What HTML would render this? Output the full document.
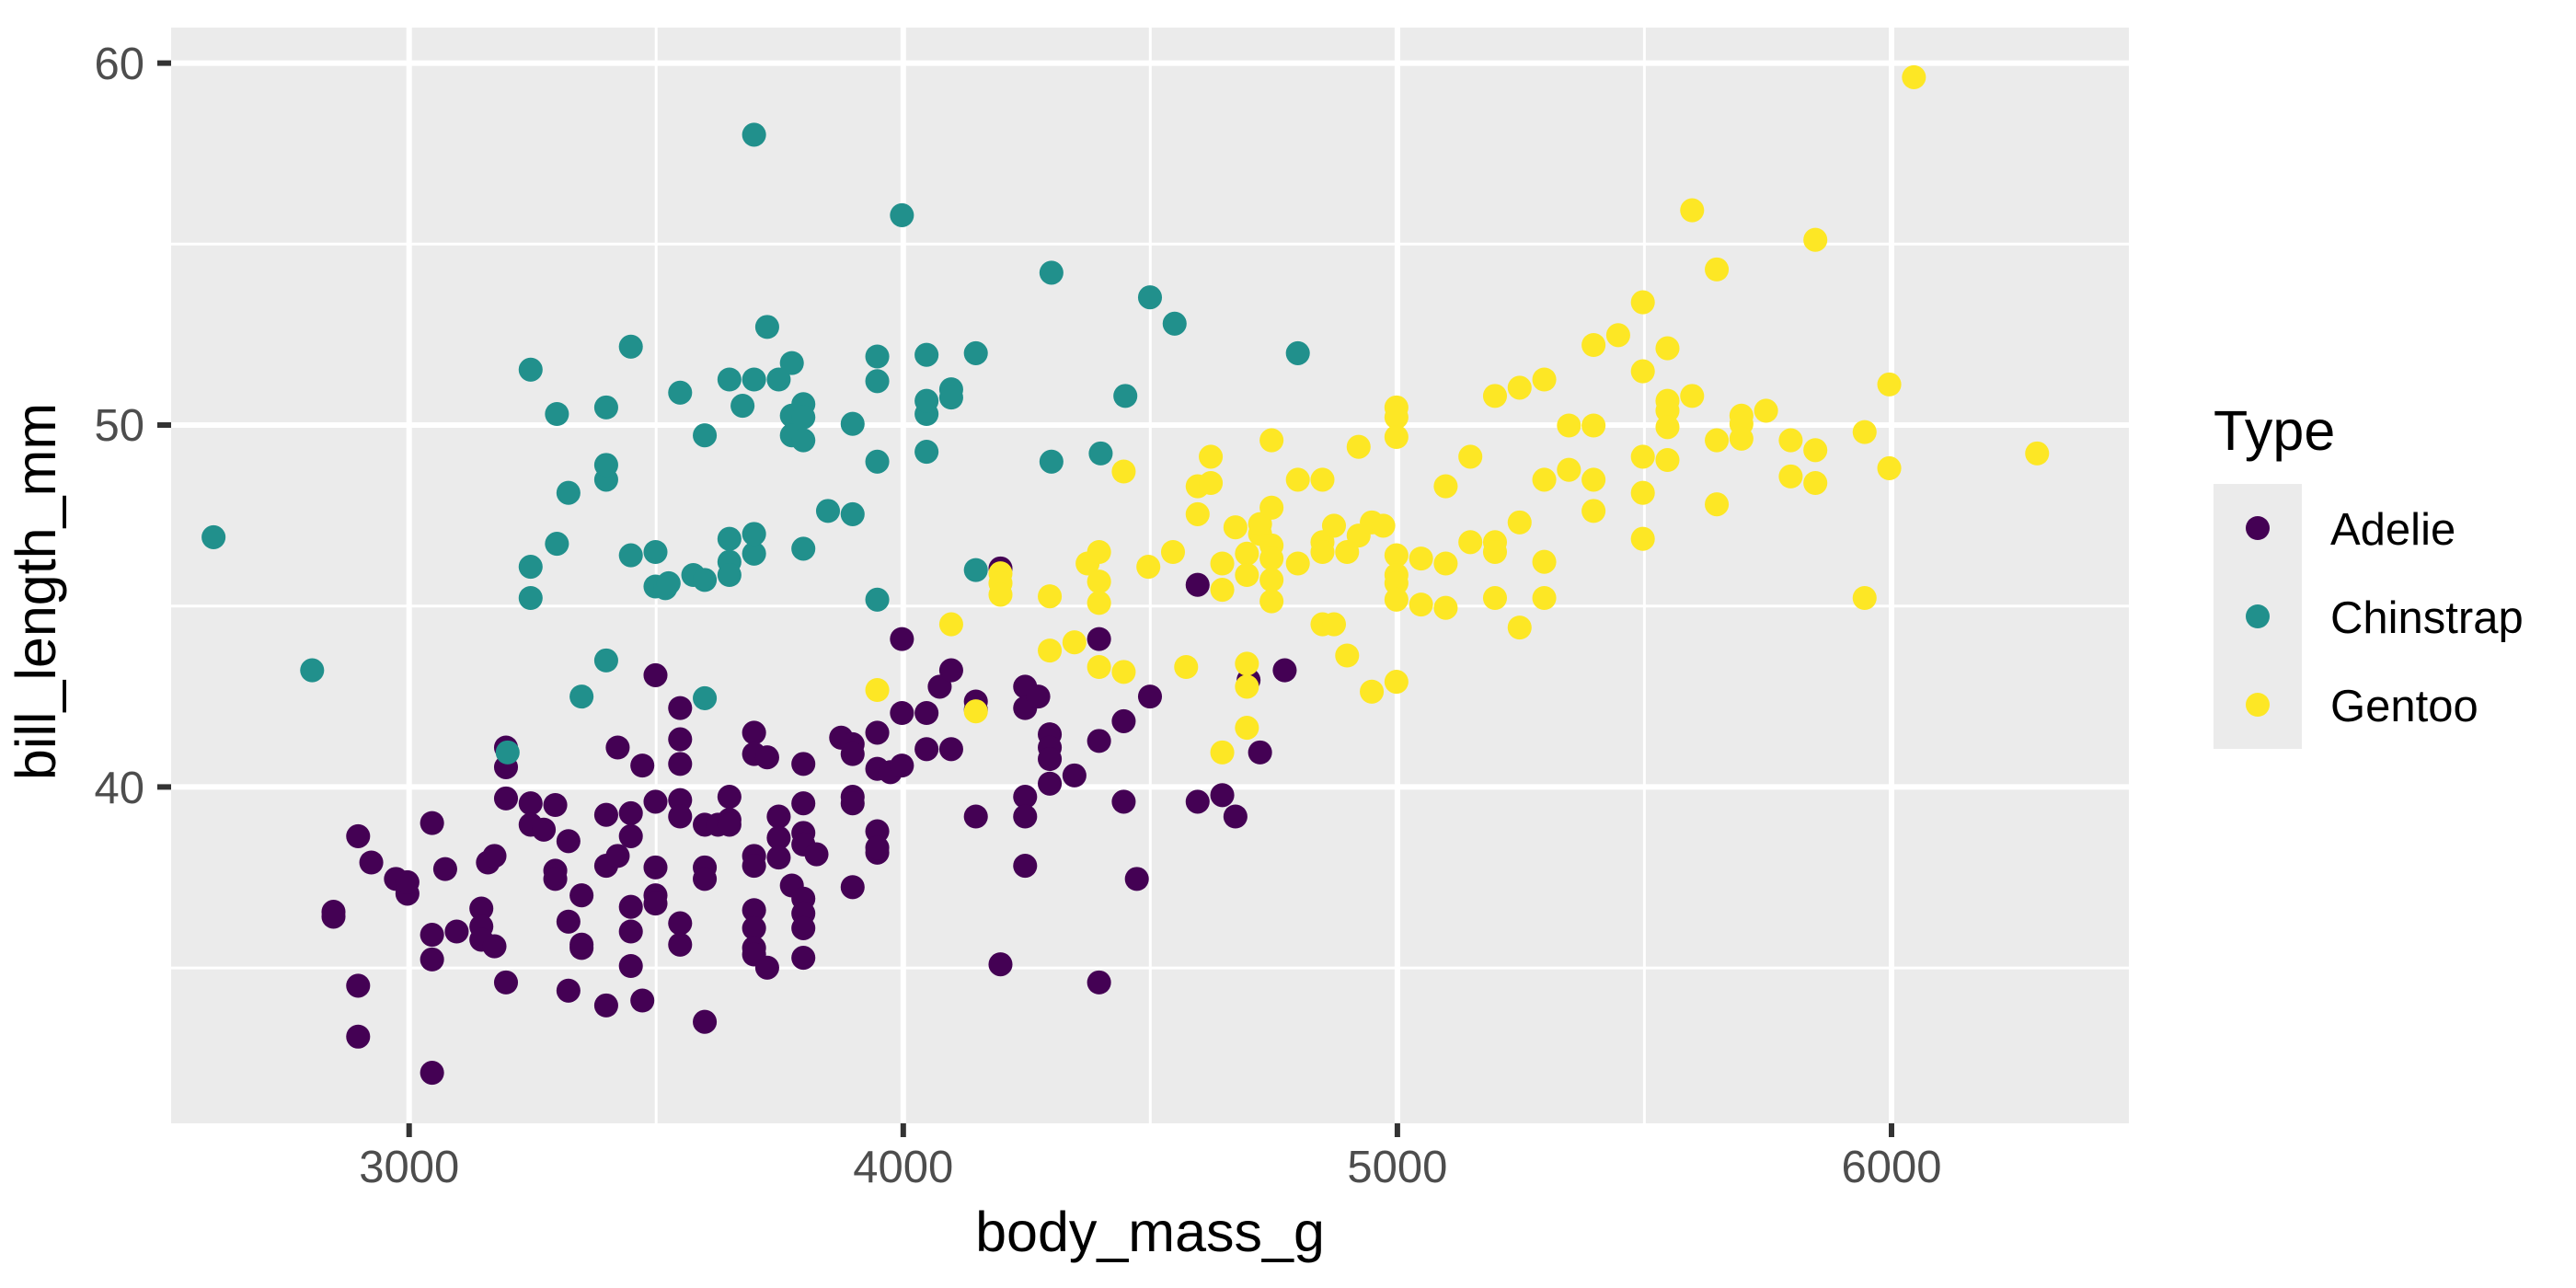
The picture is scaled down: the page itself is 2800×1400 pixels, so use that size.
<!DOCTYPE html>
<html><head><meta charset="utf-8"><style>html,body{margin:0;padding:0;background:#fff}svg{display:block}</style></head>
<body>
<svg width="2800" height="1400" viewBox="0 0 2800 1400" xmlns="http://www.w3.org/2000/svg" font-family="Liberation Sans, sans-serif">
<rect x="186" y="30" width="2128" height="1191" fill="#EBEBEB"/>
<g stroke="#fff" stroke-width="3">
<line x1="186" x2="2314" y1="265.3" y2="265.3"/><line x1="186" x2="2314" y1="658.7" y2="658.7"/><line x1="186" x2="2314" y1="1052.1" y2="1052.1"/>
<line y1="30" y2="1221" x1="713.2" x2="713.2"/><line y1="30" y2="1221" x1="1250.3" x2="1250.3"/><line y1="30" y2="1221" x1="1787.4" x2="1787.4"/>
</g>
<g stroke="#fff" stroke-width="6">
<line x1="186" x2="2314" y1="68.6" y2="68.6"/><line x1="186" x2="2314" y1="462" y2="462"/><line x1="186" x2="2314" y1="855.4" y2="855.4"/>
<line y1="30" y2="1221" x1="444.7" x2="444.7"/><line y1="30" y2="1221" x1="981.8" x2="981.8"/><line y1="30" y2="1221" x1="1518.9" x2="1518.9"/><line y1="30" y2="1221" x1="2056" x2="2056"/>
</g>
<g stroke="#333" stroke-width="6">
<line x1="171" x2="186" y1="68.6" y2="68.6"/><line x1="171" x2="186" y1="462" y2="462"/><line x1="171" x2="186" y1="855.4" y2="855.4"/>
<line y1="1221" y2="1236" x1="444.7" x2="444.7"/><line y1="1221" y2="1236" x1="981.8" x2="981.8"/><line y1="1221" y2="1236" x1="1518.9" x2="1518.9"/><line y1="1221" y2="1236" x1="2056" x2="2056"/>
</g>
<g fill="#4D4D4D" font-size="49">
<text x="157" y="86" text-anchor="end">60</text><text x="157" y="479" text-anchor="end">50</text><text x="157" y="873" text-anchor="end">40</text>
<text x="444.7" y="1285" text-anchor="middle">3000</text><text x="981.8" y="1285" text-anchor="middle">4000</text><text x="1518.9" y="1285" text-anchor="middle">5000</text><text x="2056" y="1285" text-anchor="middle">6000</text>
</g>
<text x="1250" y="1360" font-size="61" text-anchor="middle">body_mass_g</text>
<text transform="translate(60,643) rotate(-90)" font-size="61" text-anchor="middle">bill_length_mm</text>
<text x="2406" y="489" font-size="61">Type</text>
<rect x="2406" y="526" width="96" height="288" fill="#EBEBEB"/>
<circle cx="2454" cy="574" r="13" fill="#440154"/><circle cx="2454" cy="670" r="13" fill="#21908C"/><circle cx="2454" cy="766" r="13" fill="#FDE725"/>
<g font-size="49"><text x="2533" y="592">Adelie</text><text x="2533" y="688">Chinstrap</text><text x="2533" y="784">Gentoo</text></g>
<g transform="scale(1.7857)">
<g fill="#440154">
<circle cx="203" cy="555" r="7.3"/><circle cx="203" cy="558" r="7.3"/><circle cx="218" cy="509" r="7.3"/><circle cx="218" cy="600" r="7.3"/><circle cx="218" cy="631" r="7.3"/><circle cx="226" cy="525" r="7.3"/><circle cx="241" cy="535" r="7.3"/><circle cx="248" cy="544" r="7.3"/><circle cx="248" cy="537" r="7.3"/><circle cx="263" cy="501" r="7.3"/><circle cx="263" cy="569" r="7.3"/><circle cx="263" cy="584" r="7.3"/><circle cx="263" cy="653" r="7.3"/><circle cx="271" cy="529" r="7.3"/><circle cx="278" cy="567" r="7.3"/><circle cx="293" cy="553" r="7.3"/><circle cx="293" cy="564" r="7.3"/><circle cx="293" cy="572" r="7.3"/><circle cx="297" cy="525" r="7.3"/><circle cx="301" cy="521" r="7.3"/><circle cx="301" cy="576" r="7.3"/><circle cx="308" cy="455" r="7.3"/><circle cx="308" cy="467" r="7.3"/><circle cx="308" cy="486" r="7.3"/><circle cx="308" cy="598" r="7.3"/><circle cx="323" cy="489" r="7.3"/><circle cx="323" cy="502" r="7.3"/><circle cx="331" cy="505" r="7.3"/><circle cx="338" cy="490" r="7.3"/><circle cx="338" cy="530" r="7.3"/><circle cx="338" cy="535" r="7.3"/><circle cx="346" cy="512" r="7.3"/><circle cx="346" cy="561" r="7.3"/><circle cx="346" cy="603" r="7.3"/><circle cx="354" cy="545" r="7.3"/><circle cx="354" cy="577" r="7.3"/><circle cx="354" cy="575" r="7.3"/><circle cx="369" cy="496" r="7.3"/><circle cx="369" cy="527" r="7.3"/><circle cx="369" cy="612" r="7.3"/><circle cx="376" cy="455" r="7.3"/><circle cx="376" cy="521" r="7.3"/><circle cx="384" cy="495" r="7.3"/><circle cx="384" cy="509" r="7.3"/><circle cx="384" cy="552" r="7.3"/><circle cx="384" cy="567" r="7.3"/><circle cx="384" cy="588" r="7.3"/><circle cx="391" cy="466" r="7.3"/><circle cx="391" cy="609" r="7.3"/><circle cx="399" cy="411" r="7.3"/><circle cx="399" cy="488" r="7.3"/><circle cx="399" cy="528" r="7.3"/><circle cx="399" cy="545" r="7.3"/><circle cx="399" cy="550" r="7.3"/><circle cx="414" cy="431" r="7.3"/><circle cx="414" cy="450" r="7.3"/><circle cx="414" cy="465" r="7.3"/><circle cx="414" cy="487" r="7.3"/><circle cx="414" cy="497" r="7.3"/><circle cx="414" cy="562" r="7.3"/><circle cx="414" cy="575" r="7.3"/><circle cx="429" cy="502" r="7.3"/><circle cx="429" cy="528" r="7.3"/><circle cx="429" cy="535" r="7.3"/><circle cx="429" cy="622" r="7.3"/><circle cx="437" cy="502" r="7.3"/><circle cx="444" cy="485" r="7.3"/><circle cx="444" cy="499" r="7.3"/><circle cx="444" cy="502" r="7.3"/><circle cx="459" cy="446" r="7.3"/><circle cx="459" cy="459" r="7.3"/><circle cx="459" cy="521" r="7.3"/><circle cx="459" cy="527" r="7.3"/><circle cx="459" cy="554" r="7.3"/><circle cx="459" cy="565" r="7.3"/><circle cx="459" cy="577" r="7.3"/><circle cx="459" cy="581" r="7.3"/><circle cx="467" cy="461" r="7.3"/><circle cx="467" cy="589" r="7.3"/><circle cx="474" cy="497" r="7.3"/><circle cx="474" cy="510" r="7.3"/><circle cx="474" cy="522" r="7.3"/><circle cx="482" cy="539" r="7.3"/><circle cx="489" cy="465" r="7.3"/><circle cx="489" cy="489" r="7.3"/><circle cx="489" cy="507" r="7.3"/><circle cx="489" cy="514" r="7.3"/><circle cx="489" cy="547" r="7.3"/><circle cx="489" cy="556" r="7.3"/><circle cx="489" cy="565" r="7.3"/><circle cx="489" cy="583" r="7.3"/><circle cx="497" cy="520" r="7.3"/><circle cx="512" cy="449" r="7.3"/><circle cx="519" cy="453" r="7.3"/><circle cx="519" cy="459" r="7.3"/><circle cx="519" cy="485" r="7.3"/><circle cx="519" cy="489" r="7.3"/><circle cx="519" cy="540" r="7.3"/><circle cx="534" cy="446" r="7.3"/><circle cx="534" cy="468" r="7.3"/><circle cx="534" cy="506" r="7.3"/><circle cx="534" cy="519" r="7.3"/><circle cx="534" cy="516" r="7.3"/><circle cx="542" cy="470" r="7.3"/><circle cx="549" cy="389" r="7.3"/><circle cx="549" cy="434" r="7.3"/><circle cx="549" cy="466" r="7.3"/><circle cx="564" cy="434" r="7.3"/><circle cx="564" cy="456" r="7.3"/><circle cx="572" cy="418" r="7.3"/><circle cx="579" cy="408" r="7.3"/><circle cx="579" cy="456" r="7.3"/><circle cx="594" cy="427" r="7.3"/><circle cx="594" cy="497" r="7.3"/><circle cx="609" cy="346" r="7.3"/><circle cx="609" cy="587" r="7.3"/><circle cx="624" cy="418" r="7.3"/><circle cx="624" cy="431" r="7.3"/><circle cx="624" cy="485" r="7.3"/><circle cx="624" cy="497" r="7.3"/><circle cx="624" cy="527" r="7.3"/><circle cx="632" cy="424" r="7.3"/><circle cx="639" cy="447" r="7.3"/><circle cx="639" cy="455" r="7.3"/><circle cx="639" cy="462" r="7.3"/><circle cx="639" cy="477" r="7.3"/><circle cx="654" cy="472" r="7.3"/><circle cx="669" cy="389" r="7.3"/><circle cx="669" cy="451" r="7.3"/><circle cx="669" cy="598" r="7.3"/><circle cx="684" cy="439" r="7.3"/><circle cx="684" cy="488" r="7.3"/><circle cx="692" cy="535" r="7.3"/><circle cx="700" cy="424" r="7.3"/><circle cx="729" cy="356" r="7.3"/><circle cx="729" cy="488" r="7.3"/><circle cx="744" cy="484" r="7.3"/><circle cx="752" cy="497" r="7.3"/><circle cx="760" cy="414" r="7.3"/><circle cx="767" cy="458" r="7.3"/><circle cx="782" cy="408" r="7.3"/><circle cx="594" cy="432" r="7.3"/>
</g>
<g fill="#21908C">
<circle cx="130" cy="327" r="7.3"/><circle cx="190" cy="408" r="7.3"/><circle cx="323" cy="225" r="7.3"/><circle cx="323" cy="345" r="7.3"/><circle cx="323" cy="364" r="7.3"/><circle cx="339" cy="252" r="7.3"/><circle cx="339" cy="331" r="7.3"/><circle cx="346" cy="300" r="7.3"/><circle cx="354" cy="424" r="7.3"/><circle cx="369" cy="402" r="7.3"/><circle cx="369" cy="292" r="7.3"/><circle cx="369" cy="283" r="7.3"/><circle cx="369" cy="248" r="7.3"/><circle cx="384" cy="211" r="7.3"/><circle cx="384" cy="338" r="7.3"/><circle cx="399" cy="336" r="7.3"/><circle cx="399" cy="357" r="7.3"/><circle cx="405" cy="358" r="7.3"/><circle cx="407" cy="355" r="7.3"/><circle cx="414" cy="239" r="7.3"/><circle cx="422" cy="350" r="7.3"/><circle cx="429" cy="353" r="7.3"/><circle cx="429" cy="265" r="7.3"/><circle cx="429" cy="425" r="7.3"/><circle cx="444" cy="231" r="7.3"/><circle cx="444" cy="328" r="7.3"/><circle cx="444" cy="342" r="7.3"/><circle cx="444" cy="350" r="7.3"/><circle cx="452" cy="247" r="7.3"/><circle cx="459" cy="231" r="7.3"/><circle cx="459" cy="337" r="7.3"/><circle cx="459" cy="325" r="7.3"/><circle cx="459" cy="82" r="7.3"/><circle cx="467" cy="199" r="7.3"/><circle cx="474" cy="231" r="7.3"/><circle cx="482" cy="221" r="7.3"/><circle cx="482" cy="253" r="7.3"/><circle cx="482" cy="265" r="7.3"/><circle cx="489" cy="246" r="7.3"/><circle cx="489" cy="254" r="7.3"/><circle cx="489" cy="268" r="7.3"/><circle cx="489" cy="334" r="7.3"/><circle cx="504" cy="311" r="7.3"/><circle cx="519" cy="258" r="7.3"/><circle cx="519" cy="313" r="7.3"/><circle cx="534" cy="232" r="7.3"/><circle cx="534" cy="217" r="7.3"/><circle cx="534" cy="281" r="7.3"/><circle cx="534" cy="365" r="7.3"/><circle cx="549" cy="131" r="7.3"/><circle cx="564" cy="216" r="7.3"/><circle cx="564" cy="252" r="7.3"/><circle cx="564" cy="244" r="7.3"/><circle cx="564" cy="275" r="7.3"/><circle cx="579" cy="237" r="7.3"/><circle cx="579" cy="242" r="7.3"/><circle cx="594" cy="215" r="7.3"/><circle cx="594" cy="347" r="7.3"/><circle cx="640" cy="166" r="7.3"/><circle cx="640" cy="281" r="7.3"/><circle cx="670" cy="276" r="7.3"/><circle cx="685" cy="241" r="7.3"/><circle cx="700" cy="181" r="7.3"/><circle cx="715" cy="197" r="7.3"/><circle cx="790" cy="215" r="7.3"/><circle cx="309" cy="458" r="7.3"/>
</g>
<g fill="#FDE725">
<circle cx="534" cy="420" r="7.3"/><circle cx="579" cy="380" r="7.3"/><circle cx="594" cy="433" r="7.3"/><circle cx="609" cy="349" r="7.3"/><circle cx="609" cy="355" r="7.3"/><circle cx="609" cy="362" r="7.3"/><circle cx="639" cy="363" r="7.3"/><circle cx="639" cy="396" r="7.3"/><circle cx="654" cy="391" r="7.3"/><circle cx="662" cy="343" r="7.3"/><circle cx="669" cy="336" r="7.3"/><circle cx="669" cy="354" r="7.3"/><circle cx="669" cy="367" r="7.3"/><circle cx="669" cy="406" r="7.3"/><circle cx="684" cy="287" r="7.3"/><circle cx="684" cy="409" r="7.3"/><circle cx="699" cy="345" r="7.3"/><circle cx="714" cy="336" r="7.3"/><circle cx="722" cy="406" r="7.3"/><circle cx="729" cy="313" r="7.3"/><circle cx="729" cy="296" r="7.3"/><circle cx="737" cy="278" r="7.3"/><circle cx="737" cy="294" r="7.3"/><circle cx="744" cy="343" r="7.3"/><circle cx="744" cy="359" r="7.3"/><circle cx="744" cy="458" r="7.3"/><circle cx="752" cy="321" r="7.3"/><circle cx="759" cy="443" r="7.3"/><circle cx="759" cy="418" r="7.3"/><circle cx="759" cy="404" r="7.3"/><circle cx="759" cy="337" r="7.3"/><circle cx="759" cy="350" r="7.3"/><circle cx="767" cy="325" r="7.3"/><circle cx="767" cy="319" r="7.3"/><circle cx="774" cy="268" r="7.3"/><circle cx="774" cy="309" r="7.3"/><circle cx="774" cy="332" r="7.3"/><circle cx="774" cy="340" r="7.3"/><circle cx="774" cy="353" r="7.3"/><circle cx="774" cy="366" r="7.3"/><circle cx="790" cy="292" r="7.3"/><circle cx="790" cy="343" r="7.3"/><circle cx="805" cy="292" r="7.3"/><circle cx="805" cy="330" r="7.3"/><circle cx="805" cy="336" r="7.3"/><circle cx="805" cy="380" r="7.3"/><circle cx="812" cy="380" r="7.3"/><circle cx="812" cy="320" r="7.3"/><circle cx="820" cy="336" r="7.3"/><circle cx="820" cy="399" r="7.3"/><circle cx="827" cy="272" r="7.3"/><circle cx="827" cy="326" r="7.3"/><circle cx="835" cy="318" r="7.3"/><circle cx="835" cy="421" r="7.3"/><circle cx="842" cy="320" r="7.3"/><circle cx="850" cy="248" r="7.3"/><circle cx="850" cy="254" r="7.3"/><circle cx="850" cy="266" r="7.3"/><circle cx="850" cy="338" r="7.3"/><circle cx="850" cy="350" r="7.3"/><circle cx="850" cy="355" r="7.3"/><circle cx="850" cy="365" r="7.3"/><circle cx="850" cy="415" r="7.3"/><circle cx="865" cy="340" r="7.3"/><circle cx="865" cy="368" r="7.3"/><circle cx="880" cy="296" r="7.3"/><circle cx="880" cy="343" r="7.3"/><circle cx="880" cy="370" r="7.3"/><circle cx="895" cy="278" r="7.3"/><circle cx="895" cy="330" r="7.3"/><circle cx="910" cy="241" r="7.3"/><circle cx="910" cy="330" r="7.3"/><circle cx="910" cy="336" r="7.3"/><circle cx="910" cy="364" r="7.3"/><circle cx="925" cy="236" r="7.3"/><circle cx="925" cy="318" r="7.3"/><circle cx="925" cy="382" r="7.3"/><circle cx="940" cy="231" r="7.3"/><circle cx="940" cy="292" r="7.3"/><circle cx="940" cy="342" r="7.3"/><circle cx="940" cy="364" r="7.3"/><circle cx="955" cy="259" r="7.3"/><circle cx="955" cy="286" r="7.3"/><circle cx="970" cy="210" r="7.3"/><circle cx="970" cy="259" r="7.3"/><circle cx="970" cy="292" r="7.3"/><circle cx="970" cy="311" r="7.3"/><circle cx="985" cy="204" r="7.3"/><circle cx="1000" cy="184" r="7.3"/><circle cx="1000" cy="226" r="7.3"/><circle cx="1000" cy="278" r="7.3"/><circle cx="1000" cy="300" r="7.3"/><circle cx="1000" cy="328" r="7.3"/><circle cx="1015" cy="212" r="7.3"/><circle cx="1015" cy="244" r="7.3"/><circle cx="1015" cy="250" r="7.3"/><circle cx="1015" cy="260" r="7.3"/><circle cx="1015" cy="280" r="7.3"/><circle cx="1030" cy="128" r="7.3"/><circle cx="1030" cy="241" r="7.3"/><circle cx="1045" cy="164" r="7.3"/><circle cx="1045" cy="268" r="7.3"/><circle cx="1045" cy="307" r="7.3"/><circle cx="1060" cy="253" r="7.3"/><circle cx="1060" cy="258" r="7.3"/><circle cx="1060" cy="267" r="7.3"/><circle cx="1075" cy="250" r="7.3"/><circle cx="1090" cy="268" r="7.3"/><circle cx="1090" cy="290" r="7.3"/><circle cx="1105" cy="146" r="7.3"/><circle cx="1105" cy="274" r="7.3"/><circle cx="1105" cy="294" r="7.3"/><circle cx="1135" cy="263" r="7.3"/><circle cx="1135" cy="364" r="7.3"/><circle cx="1150" cy="234" r="7.3"/><circle cx="1150" cy="285" r="7.3"/><circle cx="1165" cy="47" r="7.3"/><circle cx="1240" cy="276" r="7.3"/>
</g>
</g>
</svg>
</body></html>
